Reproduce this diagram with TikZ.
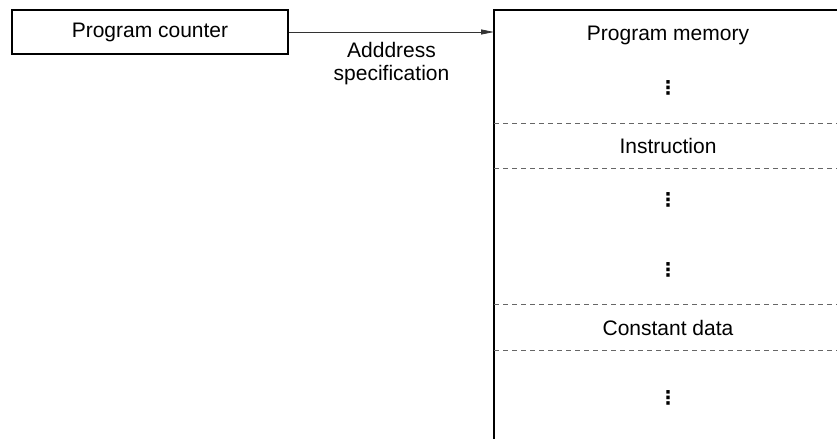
\documentclass[tikz,border=0pt]{standalone}
\usepackage{fontspec}
\setmainfont{Liberation Sans}
\newfontfamily\dotsfont{DejaVu Sans Bold}
\usepackage{tikz}
\usetikzlibrary{arrows.meta}
\usetikzlibrary{positioning}

\begin{document}
\begin{tikzpicture}[%
x={(1pt,0pt)},
y={(0pt,-1pt)},
every node/.style={font=\fontsize{21}{23}\selectfont},
pcbox/.style={draw, line width=2pt, minimum width=276pt, minimum height=44pt, inner sep=0pt},
vdot/.style={font=\dotsfont\fontsize{19}{19}\selectfont, inner sep=0pt},
sep/.style={gray!80!black, line width=1pt, dash pattern=on 5pt off 4pt},
]
\useasboundingbox (0,0) rectangle (837,439);

\coordinate (M) at (494,10);
\coordinate (R) at (837,10);
\coordinate (U) at (494,439);
\coordinate (in) at (494,32);

%Knoten
\node[pcbox] (pc) at (150,32) {Program counter};
\node (mem) at (668,35) {Program memory};
\node[vdot] (d1) at (668,88) {⋮};
\node (instr) at (668,146) {Instruction};
\node[vdot] (d2) at (668,200) {⋮};
\node[vdot] (d3) at (668,270) {⋮};
\node (cdata) at (668,328) {Constant data};
\node[vdot] (d4) at (668,398) {⋮};

%Speicher
\draw[line width=2.5pt] (R) -- (M) -- (U);
\draw[sep] (494,123) -- (837,123);
\draw[sep] (494,168) -- (837,168);
\draw[sep] (494,304) -- (837,304);
\draw[sep] (494,350) -- (837,350);

%Pfeil
\draw[-{Triangle[length=13pt,width=5pt]}, line width=0.8pt, draw=black!80] (pc) -- (in)
  node[midway, below=7pt, align=center, text=black]{Adddress\\specification};

\end{tikzpicture}
\end{document}
